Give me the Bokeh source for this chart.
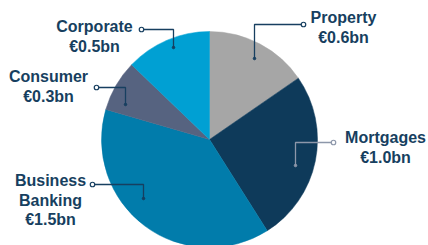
import math
from bokeh.plotting import figure
from bokeh.models import Range1d, ColumnDataSource
from bokeh.core.properties import value
from bokeh.embed import file_html
from bokeh.resources import INLINE

# ---- data ----
segments = ["Property", "Mortgages", "Business Banking", "Consumer", "Corporate"]
amounts = [0.6, 1.0, 1.5, 0.3, 0.5]          # € bn
value_labels = ["€0.6bn", "€1.0bn", "€1.5bn", "€0.3bn", "€0.5bn"]
name_lines = [["Property"], ["Mortgages"], ["Business", "Banking"], ["Consumer"], ["Corporate"]]
colors = ["#a6a6a6", "#0e3a5a", "#017cab", "#566380", "#00a0d3"]

# ---- layout (picture pixel space: x right, y down) ----
W, H = 428, 245
CX, CY, R = 209, 139, 108
TEXT_COLOR = "#173f60"

# label block centre x, first-line middle y
label_pos = {
    "Property": (343, 17),
    "Mortgages": (385, 137),
    "Business Banking": (50, 180),
    "Consumer": (48, 76),
    "Corporate": (94, 26),
}
# leader: dot (x,y), corner x, end y
leaders = {
    "Property": ((303, 24), 254, 58),
    "Mortgages": ((333, 142), 295, 165),
    "Business Banking": ((92, 184), 143, 198),
    "Consumer": ((96, 87), 125, 104),
    "Corporate": ((141, 29), 173, 47),
}
leader_colors = {"Mortgages": "#8d97aa"}
LINE_H = 19.5


def Y(py):
    return H - py


p = figure(width=W, height=H, output_backend="svg", toolbar_location=None,
           x_range=Range1d(0, W), y_range=Range1d(0, H),
           min_border=0, outline_line_color=None)
p.axis.visible = False
p.grid.visible = False
p.background_fill_color = "white"
p.border_fill_color = "white"

total = sum(amounts)
starts, ends = [], []
cum = 0.0
for a in amounts:
    a0 = cum / total * 2 * math.pi
    cum += a
    a1 = cum / total * 2 * math.pi
    # clockwise from 12 o'clock
    starts.append(math.pi / 2 - a1)
    ends.append(math.pi / 2 - a0)

src = ColumnDataSource(dict(seg=segments, amt=amounts, start=starts, end=ends, color=colors))
p.wedge(x=CX, y=Y(CY), radius=R, start_angle="start", end_angle="end",
        fill_color="color", line_color="color", line_width=0.5, source=src)

# leaders
for seg in segments:
    (dx, dy), cx, ey = leaders[seg]
    col = leader_colors.get(seg, TEXT_COLOR)
    p.line([dx, cx, cx], [Y(dy), Y(dy), Y(ey)], line_color=col, line_width=1.3)
    p.scatter([dx], [Y(dy)], size=4.5, marker="circle", fill_color="white",
              line_color=col, line_width=1.2)
    p.scatter([cx], [Y(ey)], size=2.5, marker="circle", fill_color=col, line_color=col)

# labels
for seg, names, val in zip(segments, name_lines, value_labels):
    lx, ly = label_pos[seg]
    lines = names + [val]
    xs = [lx] * len(lines)
    ys = [Y(ly + i * LINE_H) for i in range(len(lines))]
    p.text(x=xs, y=ys, text=lines, text_align="center", text_baseline="middle",
           text_font=value("Liberation Sans"), text_font_style="bold",
           text_font_size="16px", text_color=TEXT_COLOR)

open("out.html", "w").write(file_html(p, INLINE))
